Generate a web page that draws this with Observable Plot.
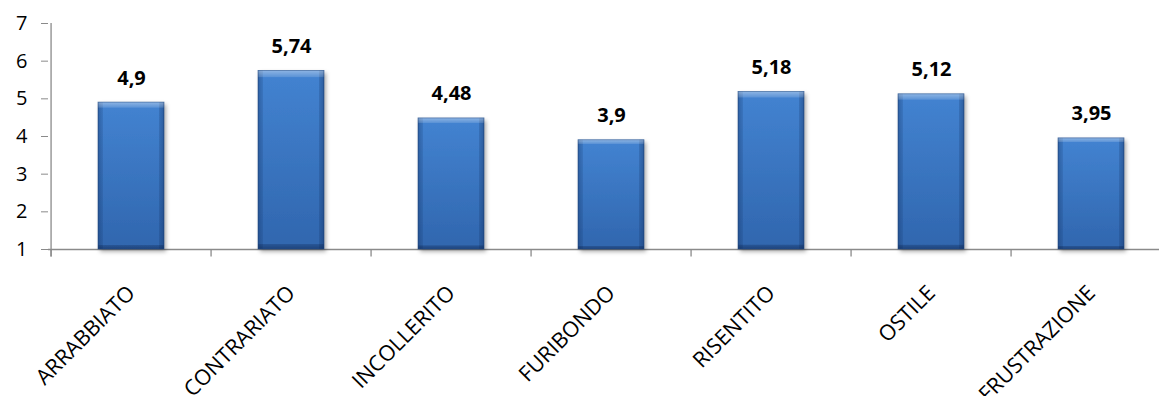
<!DOCTYPE html>
<html>
<head>
<meta charset="utf-8">
<script src="https://cdn.jsdelivr.net/npm/d3@7"></script>
<script src="https://cdn.jsdelivr.net/npm/@observablehq/plot@0.6"></script>
<style>
  html, body { margin: 0; padding: 0; background: #fff; }
</style>
</head>
<body>
<div id="chart"></div>
<script>
const categories = ["ARRABBIATO", "CONTRARIATO", "INCOLLERITO", "FURIBONDO", "RISENTITO", "OSTILE", "FRUSTRAZIONE"];
const values = [4.9, 5.74, 4.48, 3.9, 5.18, 5.12, 3.95];
const valueLabels = ["4,9", "5,74", "4,48", "3,9", "5,18", "5,12", "3,95"];
const yTicks = [1, 2, 3, 4, 5, 6, 7];

const data = categories.map((c, i) => ({cat: c, value: values[i], label: valueLabels[i]}));

const W = 1159, H = 396;
const x0 = 48, step = 160.86;
const halfStep = step / 2;
const axisColor = "#8a8a8a";

const plot = Plot.plot({
  width: W,
  height: H,
  marginLeft: x0,
  marginRight: 0,
  marginTop: 23,
  marginBottom: 147,
  style: {fontFamily: "'Open Sans', sans-serif", background: "#fff", overflow: "hidden"},
  x: {domain: categories, range: [x0, x0 + 7 * step], paddingInner: 0.59, paddingOuter: 0.295, label: null},
  y: {domain: [1, 7], label: null},
  marks: [
    Plot.ruleY([1], {stroke: axisColor, strokeWidth: 1.3}),
    Plot.ruleX([categories[0]], {x: d => d, y1: 0.8, y2: 7, dx: -halfStep, stroke: axisColor, strokeWidth: 1.3}),
    Plot.ruleX(categories, {x: d => d, y1: 0.8, y2: 1, dx: -halfStep, stroke: axisColor, strokeWidth: 1.3}),
    Plot.barY(data, {x: "cat", y1: 1, y2: "value", fill: "url(#barBody)", ariaDescription: "body"}),
    Plot.barY(data, {x: "cat", y1: 1, y2: "value", fill: "url(#barSides)"}),
    Plot.barY(data, {x: "cat", y1: 1, y2: "value", fill: "url(#barTopBot)", stroke: "#24508c", strokeWidth: 0.8, strokeOpacity: 0.7}),
    Plot.text(data, {x: "cat", y: "value", text: "label", dy: -18, lineAnchor: "bottom", fontWeight: "bold", fontSize: 20, fill: "#000"}),
    Plot.axisY({ticks: yTicks, tickSize: 7, tickPadding: 14, fontSize: 20, stroke: axisColor, fill: "#000", tickFormat: d => String(d), label: null}),
    Plot.axisX({tickSize: 0, tickRotate: -45, tickPadding: 40, fontSize: 21.5, fill: "#000", label: null})
  ]
});

const defs = d3.select(plot).insert("defs", ":first-child");
defs.html(`
  <linearGradient id="barBody" x1="0" y1="0" x2="0" y2="1">
    <stop offset="0" stop-color="#4383d1"/>
    <stop offset="1" stop-color="#3066ae"/>
  </linearGradient>
  <linearGradient id="barSides" x1="0" y1="0" x2="1" y2="0">
    <stop offset="0" stop-color="#0d2a5a" stop-opacity="0.55"/>
    <stop offset="0.02" stop-color="#0d2a5a" stop-opacity="0.3"/>
    <stop offset="0.07" stop-color="#0d2a5a" stop-opacity="0.15"/>
    <stop offset="0.075" stop-color="#0d2a5a" stop-opacity="0"/>
    <stop offset="0.925" stop-color="#0d2a5a" stop-opacity="0"/>
    <stop offset="0.93" stop-color="#0d2a5a" stop-opacity="0.2"/>
    <stop offset="0.98" stop-color="#0d2a5a" stop-opacity="0.35"/>
    <stop offset="1" stop-color="#0d2a5a" stop-opacity="0.6"/>
  </linearGradient>
  <linearGradient id="barTopBot" x1="0" y1="0" x2="0" y2="1">
    <stop offset="0" stop-color="#ffffff" stop-opacity="0.4"/>
    <stop offset="0.035" stop-color="#ffffff" stop-opacity="0.15"/>
    <stop offset="0.04" stop-color="#ffffff" stop-opacity="0"/>
    <stop offset="0.97" stop-color="#061a40" stop-opacity="0"/>
    <stop offset="0.975" stop-color="#061a40" stop-opacity="0.25"/>
    <stop offset="1" stop-color="#061a40" stop-opacity="0.45"/>
  </linearGradient>
  <filter id="barShadow" x="-20%" y="-10%" width="140%" height="130%">
    <feDropShadow dx="2" dy="2.5" stdDeviation="2.2" flood-color="#000" flood-opacity="0.35"/>
  </filter>
`);
d3.select(plot).select('g[aria-description="body"]').attr("filter", "url(#barShadow)");

document.getElementById("chart").appendChild(plot);
</script>
</body>
</html>
